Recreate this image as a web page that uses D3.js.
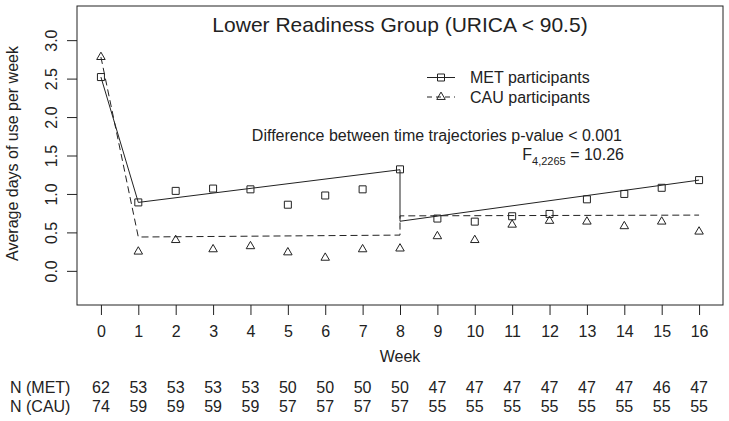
<!DOCTYPE html>
<html>
<head>
<meta charset="utf-8">
<script src="https://cdn.jsdelivr.net/npm/d3@7"></script>
<style>
  html, body { margin: 0; padding: 0; background: #fff; }
  svg text { font-family: "Liberation Sans", Arial, Helvetica, sans-serif; fill: #222; }
</style>
</head>
<body>
<svg id="chart" width="729" height="421"></svg>
<script>
// ---------- data ----------
const weeks = [0,1,2,3,4,5,6,7,8,9,10,11,12,13,14,15,16];
const metMeans = [2.52,0.89,1.04,1.07,1.06,0.86,0.98,1.06,1.32,0.68,0.64,0.71,0.74,0.93,1.00,1.08,1.18];
const cauMeans = [2.78,0.25,0.40,0.28,0.32,0.24,0.17,0.28,0.29,0.45,0.40,0.60,0.65,0.64,0.58,0.64,0.51];
const fitWeeks = [0,1,8,8,16];
const metFit = [2.52,0.89,1.315,0.645,1.18];
const cauFit = [2.78,0.44,0.465,0.715,0.725];
const nMet = [62,53,53,53,53,50,50,50,50,47,47,47,47,47,47,46,47];
const nCau = [74,59,59,59,59,57,57,57,57,55,55,55,55,55,55,55,55];
const yTicks = [0,0.5,1,1.5,2,2.5,3];
const yLim = [-0.3,3.3];
const xLim = [0,16];

// ---------- layout ----------
const box = {left:77, right:723, top:6, bottom:305};
const ink = "#222";
const svg = d3.select("#chart");

const xr = xLim[1]-xLim[0], yr = yLim[1]-yLim[0];
const x = d3.scaleLinear().domain([xLim[0]-0.04*xr, xLim[1]+0.04*xr]).range([box.left, box.right]);
const y = d3.scaleLinear().domain([yLim[0]-0.04*yr, yLim[1]+0.04*yr]).range([box.bottom, box.top]);

// plot box
svg.append("rect")
  .attr("x", box.left).attr("y", box.top)
  .attr("width", box.right-box.left).attr("height", box.bottom-box.top)
  .attr("fill","none").attr("stroke", ink).attr("stroke-width",1);

// axes
const xAxis = d3.axisBottom(x).tickValues(weeks).tickSize(10).tickPadding(4).tickFormat(d3.format("d"));
const gx = svg.append("g").attr("transform",`translate(0,${box.bottom})`).call(xAxis);
gx.select(".domain").remove();
gx.selectAll("line").attr("stroke", ink);
gx.selectAll("text").attr("font-size",16).attr("fill",ink).attr("dy",null)
  .attr("y", 31.5);

const yAxis = d3.axisLeft(y).tickValues(yTicks).tickSize(10).tickFormat(d3.format(".1f"));
const gy = svg.append("g").attr("transform",`translate(${box.left},0)`).call(yAxis);
gy.select(".domain").remove();
gy.selectAll("line").attr("stroke", ink);
gy.selectAll("text").attr("font-size",16).attr("fill",ink)
  .attr("x",null).attr("dy",null).attr("text-anchor","middle")
  .attr("transform","translate(-20,0) rotate(-90)");

// axis titles
svg.append("text").attr("x", (box.left+box.right)/2).attr("y", 362)
  .attr("text-anchor","middle").attr("font-size",16).text("Week");
svg.append("text").attr("transform",`translate(18,${(box.top+box.bottom)/2-2}) rotate(-90)`)
  .attr("text-anchor","middle").attr("font-size",16).text("Average days of use per week");

// title
svg.append("text").attr("x", (box.left+box.right)/2).attr("y", 32)
  .attr("text-anchor","middle").attr("font-size",21).text("Lower Readiness Group (URICA < 90.5)");

// fitted lines
const line = d3.line().x((d,i)=>x(fitWeeks[i])).y(d=>y(d));
svg.append("path").datum(metFit).attr("d", line)
  .attr("fill","none").attr("stroke",ink).attr("stroke-width",1);
svg.append("path").datum(cauFit).attr("d", line)
  .attr("fill","none").attr("stroke",ink).attr("stroke-width",1).attr("stroke-dasharray","7,4");

// markers
const sq = 7;
function squarePath(cx, cy){ return `M${cx-sq/2},${cy-sq/2}h${sq}v${sq}h${-sq}Z`; }
function triPath(cx, cy){ return `M${cx},${cy-4.9}L${cx+4.25},${cy+2.45}L${cx-4.25},${cy+2.45}Z`; }

svg.append("g").selectAll("path").data(metMeans).join("path")
  .attr("d",(d,i)=>squarePath(x(weeks[i]), y(d)))
  .attr("fill","none").attr("stroke",ink).attr("stroke-width",1);
svg.append("g").selectAll("path").data(cauMeans).join("path")
  .attr("d",(d,i)=>triPath(x(weeks[i]), y(d)))
  .attr("fill","none").attr("stroke",ink).attr("stroke-width",1);

// legend
const lg = svg.append("g");
lg.append("line").attr("x1",427).attr("x2",455).attr("y1",77.5).attr("y2",77.5).attr("stroke",ink);
lg.append("path").attr("d",squarePath(441,77.5)).attr("fill","none").attr("stroke",ink);
lg.append("text").attr("x",470).attr("y",83).attr("font-size",16).text("MET participants");
lg.append("line").attr("x1",427).attr("x2",455).attr("y1",97).attr("y2",97).attr("stroke",ink).attr("stroke-dasharray","5,4");
lg.append("path").attr("d",triPath(441,97)).attr("fill","none").attr("stroke",ink);
lg.append("text").attr("x",470).attr("y",102.5).attr("font-size",16).text("CAU participants");

// annotation
svg.append("text").attr("x",622).attr("y",140.5).attr("text-anchor","end").attr("font-size",16)
  .text("Difference between time trajectories p-value < 0.001");
const ft = svg.append("text").attr("x",624).attr("y",160).attr("text-anchor","end").attr("font-size",16);
ft.append("tspan").text("F");
ft.append("tspan").attr("font-size",11).attr("dy",5).text("4,2265");
ft.append("tspan").attr("dy",-5).text(" = 10.26");

// N table
svg.append("text").attr("x",10).attr("y",392.5).attr("font-size",16).text("N (MET)");
svg.append("text").attr("x",10).attr("y",412).attr("font-size",16).text("N (CAU)");
svg.append("g").selectAll("text").data(nMet).join("text")
  .attr("x",(d,i)=>x(weeks[i])).attr("y",392.5).attr("text-anchor","middle").attr("font-size",16).text(d=>d);
svg.append("g").selectAll("text").data(nCau).join("text")
  .attr("x",(d,i)=>x(weeks[i])).attr("y",412).attr("text-anchor","middle").attr("font-size",16).text(d=>d);
</script>
</body>
</html>
